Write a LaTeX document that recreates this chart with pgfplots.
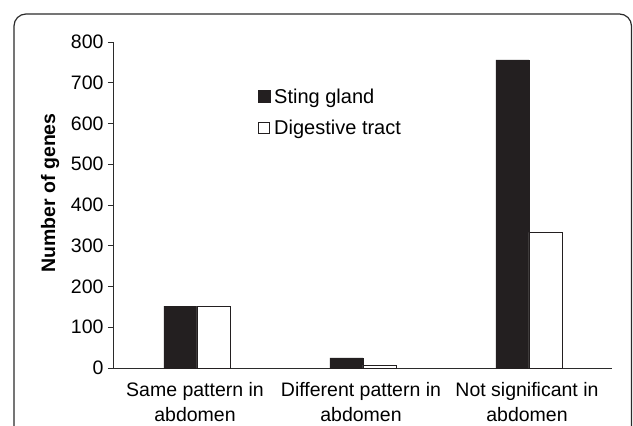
\documentclass[border=0pt]{standalone}
\usepackage{pgfplots}
\pgfplotsset{compat=1.18}
\usepackage{fontspec}
\setmainfont{Liberation Sans}
\definecolor{barblack}{HTML}{231F20}
\definecolor{axisgray}{HTML}{2B2B2B}
\begin{document}
\begin{tikzpicture}
\useasboundingbox (0pt,0pt) rectangle (633pt,-426pt);
\begin{scope}
\clip (0pt,0pt) rectangle (633pt,-426pt);
\draw[line width=1.2pt, color=axisgray, rounded corners=12pt] (14pt,-14pt) rectangle (631.5pt,-470pt);
\end{scope}
\begin{axis}[
  at={(114pt,-368pt)}, anchor=south west,
  scale only axis, width=498pt, height=326pt,
  xmin=-0.5, xmax=2.5, ymin=0, ymax=800,
  axis x line*=bottom, axis y line*=left,
  axis line style={line width=1pt, color=axisgray},
  ybar=0pt, bar width=33pt,
  xtick={0,1,2},
  xticklabels={{Same pattern in\\abdomen},{Different pattern in\\abdomen},{Not significant in\\abdomen}},
  xticklabel style={align=center, font=\fontsize{19.5}{24.5}\selectfont, yshift=-5pt, xshift=-2pt},
  x tick style={draw=none},
  ytick={0,100,...,800},
  tick align=outside, major tick length=6pt,
  y tick style={line width=1pt, color=axisgray},
  yticklabel style={font=\fontsize{19.5}{22}\selectfont, xshift=-1pt},
  /pgf/number format/assume math mode=true,
  every axis y label/.style={at={(axis description cs:-0.1285,0.537)}, rotate=90, anchor=center},
  ylabel={\bfseries Number of genes},
  ylabel style={font=\fontsize{19.5}{22}\selectfont},
  legend style={at={(axis description cs:0.289,0.862)}, anchor=north west, draw=none, fill=none,
    font=\fontsize{20}{22}\selectfont, row sep=12pt, inner sep=0pt,
    nodes={inner sep=1.5pt, anchor=west},
    /tikz/every odd column/.append style={column sep=2pt}},
  legend cell align=left,
]
\addplot[fill=barblack, draw=barblack, line width=0.6pt,
  legend image code/.code={\draw[fill=barblack,draw=barblack] (0pt,-6pt) rectangle (12pt,6pt);}]
  coordinates {(0,152) (1,25) (2,756)};
\addlegendentry{Sting gland}
\addplot[fill=white, draw=barblack, line width=0.8pt,
  legend image code/.code={\draw[fill=white,draw=barblack,line width=0.6pt] (0pt,-5.5pt) rectangle (11pt,5.5pt);}]
  coordinates {(0,152) (1,7) (2,333)};
\addlegendentry{Digestive tract}
\end{axis}
\end{tikzpicture}
\end{document}
